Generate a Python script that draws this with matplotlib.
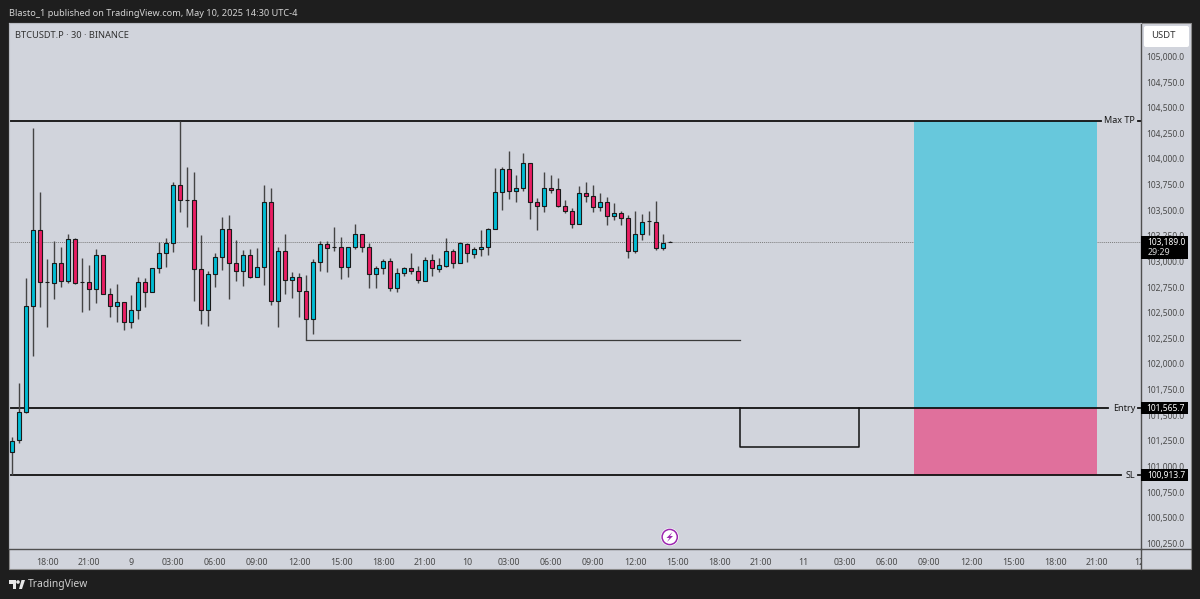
import matplotlib
matplotlib.use('Agg')
import matplotlib.pyplot as plt
from matplotlib.patches import Rectangle, Circle, Polygon, FancyBboxPatch
from matplotlib.transforms import Affine2D, Bbox, TransformedBbox
from matplotlib.lines import Line2D

plt.rcParams['font.family'] = ['Noto Sans', 'DejaVu Sans']

# ohlc, one 30 min bar each
opens = [101144, 101254, 101531, 102568, 103303, 102796, 102786, 102988, 102812, 103218,
         102796, 102796, 102727, 103066, 102679, 102568, 102607, 102412, 102523, 102796,
         102705, 102939, 103085, 103179, 103749, 103596, 103596, 102929, 102529, 102880,
         103046, 103316, 102988, 102910, 103066, 102851, 102942, 103583, 102610, 103105,
         102818, 102844, 102708, 102438, 102991, 103166, 103137, 103137, 102942, 103143,
         103264, 103137, 102880, 102935, 103007, 102743, 102890, 102935, 102903, 102812,
         103013, 102929, 102958, 103098, 102987, 103173, 103075, 103117, 103137, 103316,
         103677, 103904, 103690, 103712, 103963, 103582, 103540, 103716, 103703, 103537,
         103491, 103368, 103664, 103638, 103527, 103576, 103443, 103469, 103420, 103098,
         103264, 103391, 103381, 103127, 103189]
highs = [101290, 101810, 102841, 104298, 103680, 103023, 103199, 103144, 103267, 103225,
         103030, 102965, 103118, 103066, 102737, 102779, 102607, 102672, 102844, 102841,
         102936, 103192, 103225, 103771, 104370, 103918, 103869, 103254, 102906, 103079,
         103430, 103449, 103209, 103108, 103118, 103131, 103745, 103713, 103144, 103267,
         102900, 102884, 102867, 103020, 103199, 103202, 103332, 103241, 103143, 103364,
         103264, 103176, 102955, 103020, 103030, 102932, 102948, 103082, 102955, 103039,
         103072, 103030, 103228, 103117, 103189, 103182, 103143, 103306, 103325, 103908,
         103924, 104080, 103843, 104060, 103963, 103621, 103869, 103843, 103810, 103602,
         103517, 103735, 103774, 103742, 103670, 103631, 103569, 103488, 103452, 103491,
         103459, 103491, 103586, 103267, 103195]
lows = [100916, 101232, 101524, 102077, 102558, 102360, 102630, 102747, 102792, 102776,
        102510, 102523, 102591, 102679, 102461, 102405, 102327, 102347, 102438, 102558,
        102705, 102884, 102949, 103088, 103479, 103339, 102610, 102386, 102373, 102753,
        102913, 102630, 102809, 102760, 102835, 102851, 102770, 102571, 102360, 102682,
        102640, 102454, 102233, 102295, 102906, 102900, 103104, 102831, 102851, 103121,
        103095, 102740, 102740, 102877, 102708, 102701, 102857, 102880, 102786, 102812,
        102860, 102899, 102948, 102932, 102984, 102997, 103030, 103052, 103062, 103312,
        103501, 103608, 103582, 103690, 103410, 103306, 103485, 103670, 103534, 103475,
        103325, 103368, 103579, 103482, 103488, 103358, 103407, 103358, 103036, 103085,
        103208, 103260, 103108, 103108, 103185]
closes = [101251, 101527, 102568, 103303, 102796, 102796, 102988, 102812, 103218, 102786,
          102796, 102727, 103066, 102679, 102568, 102607, 102412, 102523, 102796, 102705,
          102936, 103085, 103179, 103749, 103596, 103596, 102929, 102529, 102880, 103046,
          103316, 102988, 102910, 103066, 102851, 102942, 103583, 102610, 103105, 102818,
          102844, 102708, 102438, 102991, 103170, 103134, 103137, 102942, 103143, 103264,
          103137, 102880, 102935, 103007, 102743, 102890, 102935, 102903, 102815, 103013,
          102932, 102961, 103098, 102987, 103176, 103078, 103117, 103137, 103316, 103677,
          103904, 103690, 103719, 103963, 103582, 103540, 103716, 103699, 103537, 103488,
          103368, 103664, 103641, 103527, 103576, 103443, 103469, 103420, 103098, 103264,
          103387, 103391, 103127, 103179, 103189]

price_ticks = [105000 - 250 * i for i in range(20)]
time_pos = [5 + 6 * i for i in range(27)]
time_labels = ['18:00', '21:00', '9', '03:00', '06:00', '09:00', '12:00', '15:00', '18:00', '21:00',
               '10', '03:00', '06:00', '09:00', '12:00', '15:00', '18:00', '21:00',
               '11', '03:00', '06:00', '09:00', '12:00', '15:00', '18:00', '21:00', '12']

max_tp = 104370
entry = 101565.7
stop_loss = 100913.7
last_price = 103189.0
box_start, box_end = 128.8, 155.0
ray_price, ray_start, ray_end = 102233, 42, 104
lower_price, lower_start, lower_end = 101189, 104, 121

BG = '#d1d4dc'
DARK = '#1e1e1e'
UP = '#00bcd4'
DOWN = '#e91e63'
TEXT = '#4a4a4a'

W, H = 1200, 599
fig = plt.figure(figsize=(W / 100, H / 100), dpi=100, facecolor=DARK)
pix = Affine2D().scale(1 / W, -1 / H).translate(0, 1) + fig.transFigure

# the pane, 7 px per bar and about 0.1025 px per dollar
L, R, T, B = 9, 1140.5, 22.5, 548.5
ax = fig.add_axes([L / W, 1 - B / H, (R - L) / W, (B - T) / H], facecolor=BG)
ax.set_xlim((L - 12.3) / 7, (R - 12.3) / 7)
ax.set_ylim(105550 - 9.756 * B, 105550 - 9.756 * T)

fig.add_artist(Rectangle((L, T), 1191 - L, 569 - T, transform=pix, facecolor=BG,
                         edgecolor='#8a8a8a', linewidth=0.8, zorder=-1))

for side in ['top', 'left']:
    ax.spines[side].set_color('#b8bbc2')
for side in ['right', 'bottom']:
    ax.spines[side].set_color('#4f4f4f')
    ax.spines[side].set_linewidth(1.0)

# axis dividers carry on past the pane
fig.add_artist(Line2D([R, R], [B, 569], transform=pix, color='#4f4f4f', lw=1.0, zorder=1))
fig.add_artist(Line2D([R, 1191], [B, B], transform=pix, color='#4f4f4f', lw=1.0, zorder=1))

idx = list(range(len(opens)))
ax.axhline(last_price, color='#7d7d7d', lw=0.7, ls=(0, (1, 1)), zorder=1)

# long/short position box
ax.add_patch(Rectangle((box_start, entry), box_end - box_start, max_tp - entry,
                       facecolor='#67c8dc', edgecolor='none', zorder=1.2))
ax.add_patch(Rectangle((box_start, stop_loss), box_end - box_start, entry - stop_loss,
                       facecolor='#e0709c', edgecolor='none', zorder=1.2))

ax.plot([ray_start, ray_start, ray_end], [lows[ray_start], ray_price, ray_price],
        color='#3a3a3a', lw=0.9, zorder=1.5)
ax.plot([lower_start, lower_start, lower_end, lower_end],
        [entry, lower_price, lower_price, entry], color='#111111', lw=1.1, zorder=1.5)

# levels, the right end stops at the label
for price, end_px in zip([max_tp, entry, stop_loss], [1101, 1108, 1121]):
    ax.plot([ax.get_xlim()[0], (end_px - 12.3) / 7], [price, price], color='#111111', lw=1.3, zorder=1.6)
    ax.plot([(1138 - 12.3) / 7, ax.get_xlim()[1]], [price, price], color='#111111', lw=1.3, zorder=1.6)

ax.vlines(idx, lows, highs, color='#444444', lw=1.0, zorder=2)
for i in idx:
    color = UP if closes[i] >= opens[i] else DOWN
    bottom = min(opens[i], closes[i])
    ax.bar(i, abs(closes[i] - opens[i]), bottom=bottom, width=0.6, color=color,
           edgecolor='#1a1a1a', linewidth=0.8, zorder=3)

ax.set_xticks(time_pos)
ax.set_xticklabels(time_labels)
ax.set_yticks(price_ticks)
ax.set_yticklabels([f'{p:,.1f}' for p in price_ticks])
ax.yaxis.tick_right()
ax.tick_params(axis='x', length=0, pad=7, labelsize=6.4, labelcolor=TEXT)
ax.tick_params(axis='y', length=0, pad=4.5, labelsize=6.1, labelcolor=TEXT)
for lab in ax.get_xticklabels():
    lab.set_clip_on(True)
    lab.set_clip_box(TransformedBbox(Bbox([[0, 0], [R / W, 1]]), fig.transFigure))


def ptext(x, y, s, **kw):
    kw.setdefault('va', 'center')
    return fig.text(x / W, 1 - y / H, s, **kw)


def price_y(p):
    return (105550 - p) / 9.756


# level names
for name, price, x in zip(['Max TP', 'Entry', 'SL'], [max_tp, entry, stop_loss], [1119, 1124, 1130]):
    ptext(x, price_y(price), name, ha='center', fontsize=6.5, color='#1a1a1a', fontweight='semibold', zorder=6)

# black price tags
for price, label in zip([entry, stop_loss], [f'{entry:,.1f}', f'{stop_loss:,.1f}']):
    y = price_y(price)
    fig.add_artist(Rectangle((1141, y - 6), 47, 12, transform=pix, facecolor='black', edgecolor='none', zorder=5))
    ptext(1166, y, label, ha='center', fontsize=6.1, color='white', fontweight='semibold', zorder=6)
fig.add_artist(Rectangle((1141, 236), 47, 23, transform=pix, facecolor='black', edgecolor='none', zorder=5))
ptext(1166, 242.5, f'{last_price:,.1f}', ha='center', fontsize=6.1, color='white', fontweight='semibold', zorder=6)
ptext(1148, 252.5, '29:29', ha='left', fontsize=6.4, color='#d8d8d8', zorder=6)

fig.add_artist(FancyBboxPatch((1146, 28), 41, 17, boxstyle='round,pad=2,rounding_size=2', transform=pix,
                              facecolor='white', edgecolor='none', zorder=5))
ptext(1163, 36, 'USDT', ha='center', fontsize=6.8, color='#333333', zorder=6)

ptext(9, 13, 'Blasto_1 published on TradingView.com, May 10, 2025 14:30 UTC-4', ha='left', fontsize=6.6, color='#d4d4d4')
ptext(15, 35, 'BTCUSDT.P · 30 · BINANCE', ha='left', fontsize=6.7, color='#333333')
ptext(28, 585, 'TradingView', ha='left', fontsize=7.4, color='#d0d0d0')

# tv logo
logo = [[(8.5, 580), (16, 580), (16, 589), (12.5, 589), (12.5, 584), (8.5, 584)],
        [(19, 589), (21.5, 580), (25, 580), (22, 589)]]
for pts in logo:
    fig.add_artist(Polygon(pts, transform=pix, facecolor='#e8e8e8', edgecolor='none', zorder=5))
fig.add_artist(Circle((18, 582), 1.8, transform=pix, facecolor='#e8e8e8', edgecolor='none', zorder=5))

# lightning marker
fig.add_artist(Circle((669.7, 537), 9, transform=pix, facecolor='white', edgecolor='none', zorder=5))
fig.add_artist(Circle((669.7, 537), 7.6, transform=pix, facecolor='white', edgecolor='#9c27b0', linewidth=1.1, zorder=5))
fig.add_artist(Polygon([(672.5, 532), (666.5, 538), (669.5, 538), (667, 542), (673, 536), (670, 536)],
                       transform=pix, facecolor='#9c27b0', edgecolor='none', zorder=6))

fig.savefig('out.png', dpi=100, facecolor=fig.get_facecolor())
